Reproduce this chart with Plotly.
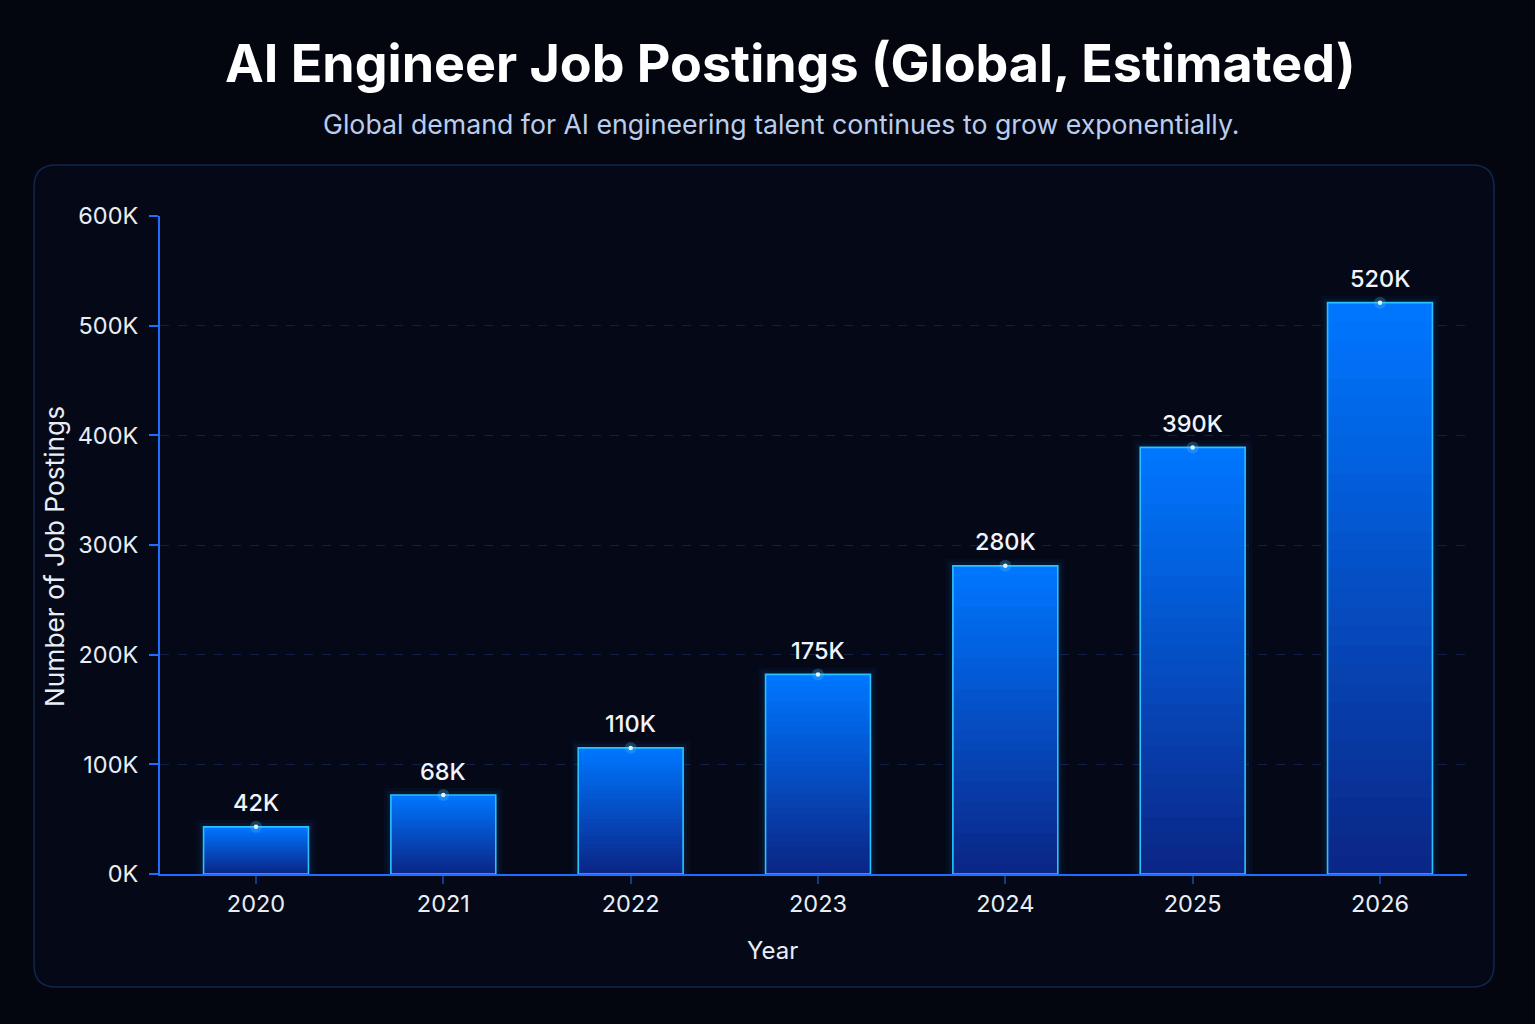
import plotly.graph_objects as go

# ---- data ----
years = ["2020", "2021", "2022", "2023", "2024", "2025", "2026"]
bar_values = [43000, 72000, 115000, 182000, 281000, 389000, 521000]
bar_labels = ["42K", "68K", "110K", "175K", "280K", "390K", "520K"]
y_tick_vals = [0, 100000, 200000, 300000, 400000, 500000, 600000]
y_tick_text = ["0K", "100K", "200K", "300K", "400K", "500K", "600K"]

W, H = 1535, 1024
ML, MR, MT, MB = 160, 68, 216, 150
PW, PH = W - ML - MR, H - MT - MB


def px_x(px):
    return (px - ML) / PW


def px_y(py):
    return (H - MB - py) / PH


def lerp(c1, c2, t):
    return tuple(round(a + (b - a) * t) for a, b in zip(c1, c2))


fig = go.Figure()

BARGAP = 0.44
# soft glow behind bars
for w, a in [(14, 0.04), (8, 0.06)]:
    fig.add_trace(go.Bar(x=years, y=bar_values, marker=dict(color="rgba(20,110,255,0.0)",
                         line=dict(color="rgba(30,140,255,%.2f)" % a, width=w)),
                         hoverinfo="skip", showlegend=False))

# gradient via overlaid bars
top_c = (0, 118, 255)
bot_c = (10, 38, 135)
N = 30
for i in range(N):
    f = 1 - i / N
    c = lerp(top_c, bot_c, i / (N - 1))
    fig.add_trace(go.Bar(x=years, y=[v * f for v in bar_values],
                         marker=dict(color="rgb(%d,%d,%d)" % c, line=dict(width=0)),
                         hoverinfo="skip", showlegend=False))

# outline
fig.add_trace(go.Bar(x=years, y=bar_values,
                     marker=dict(color="rgba(0,0,0,0)", line=dict(color="#27c4ff", width=1.6)),
                     hoverinfo="skip", showlegend=False))

# top dots with glow
fig.add_trace(go.Scatter(x=years, y=bar_values, mode="markers",
                         marker=dict(size=12, color="rgba(90,200,255,0.25)"),
                         hoverinfo="skip", showlegend=False))
fig.add_trace(go.Scatter(x=years, y=bar_values, mode="markers",
                         marker=dict(size=4.5, color="#dff6ff"),
                         hoverinfo="skip", showlegend=False))

annotations = []
for i, (v, lab) in enumerate(zip(bar_values, bar_labels)):
    annotations.append(dict(x=i, y=v, xref="x", yref="y", text=lab, showarrow=False,
                            yshift=24, xanchor="center", yanchor="middle",
                            font=dict(family="Inter", size=23.5, weight=500, color="#f2f5fb")))

annotations.append(dict(x=px_x(790), y=px_y(63), xref="paper", yref="paper",
                        xanchor="center", yanchor="middle",
                        text="<b>AI Engineer Job Postings (Global, Estimated)</b>", showarrow=False,
                        font=dict(family="Inter", size=52, color="#ffffff")))
annotations.append(dict(x=px_x(781), y=px_y(124), xref="paper", yref="paper",
                        xanchor="center", yanchor="middle",
                        text="Global demand for AI engineering talent continues to grow exponentially.",
                        showarrow=False, font=dict(family="Inter", size=26.7, color="#b9cdee")))
# axis titles
annotations.append(dict(x=px_x(772), y=px_y(950), xref="paper", yref="paper",
                        xanchor="center", yanchor="middle", text="Year", showarrow=False,
                        font=dict(family="Inter", size=24, color="#e8edf6")))
annotations.append(dict(x=px_x(54), y=px_y(557), xref="paper", yref="paper",
                        xanchor="center", yanchor="middle", text="Number of Job Postings",
                        showarrow=False, textangle=-90,
                        font=dict(family="Inter", size=26.3, color="#e8edf6")))

# rounded panel
x0, x1, y0, y1, r = 34, 1494, 165, 987, 22


def rounded_path(x0, y0, x1, y1, r):
    return ("M {a},{b} L {c},{b} Q {d},{b} {d},{e} L {d},{f} Q {d},{g} {c},{g} "
            "L {a},{g} Q {h},{g} {h},{f} L {h},{e} Q {h},{b} {a},{b} Z").format(
        a=px_x(x0 + r), b=px_y(y0), c=px_x(x1 - r), d=px_x(x1), e=px_y(y0 + r),
        f=px_y(y1 - r), g=px_y(y1), h=px_x(x0))


shapes = [dict(type="path", xref="paper", yref="paper", path=rounded_path(x0, y0, x1, y1, r),
               fillcolor="#050917", line=dict(color="#12264d", width=1.5), layer="below")]

# x range chosen so category centers land where the reference puts them
unit = 1124 / (len(years) - 1)
r0 = -(256 - ML) / unit
r1 = r0 + PW / unit

fig.update_layout(
    width=W, height=H,
    margin=dict(l=ML, r=MR, t=MT, b=MB),
    paper_bgcolor="#03060f",
    plot_bgcolor="rgba(0,0,0,0)",
    barmode="overlay",
    bargap=BARGAP,
    annotations=annotations,
    shapes=shapes,
    font=dict(family="Inter", color="#e8edf6"),
    xaxis=dict(
        type="category",
        range=[r0, r1],
        tickfont=dict(size=23.5, color="#e8edf6"),
        showline=True, linecolor="#1f6dff", linewidth=2,
        ticks="outside", ticklen=8, tickcolor="#123a8a", tickwidth=1.5,
        ticklabelstandoff=0,
        showgrid=False, fixedrange=True,
    ),
    yaxis=dict(
        range=[0, 600000],
        tickvals=y_tick_vals, ticktext=y_tick_text,
        tickfont=dict(size=23.5, color="#e8edf6"),
        showline=True, linecolor="#1f6dff", linewidth=2,
        ticks="outside", ticklen=9, tickcolor="#1f6dff", tickwidth=2,
        ticklabelstandoff=6,
        showgrid=True, gridcolor="rgba(40,75,150,0.35)", griddash="dash", gridwidth=1,
        zeroline=False, fixedrange=True,
    ),
)

fig.write_html("out.html")
